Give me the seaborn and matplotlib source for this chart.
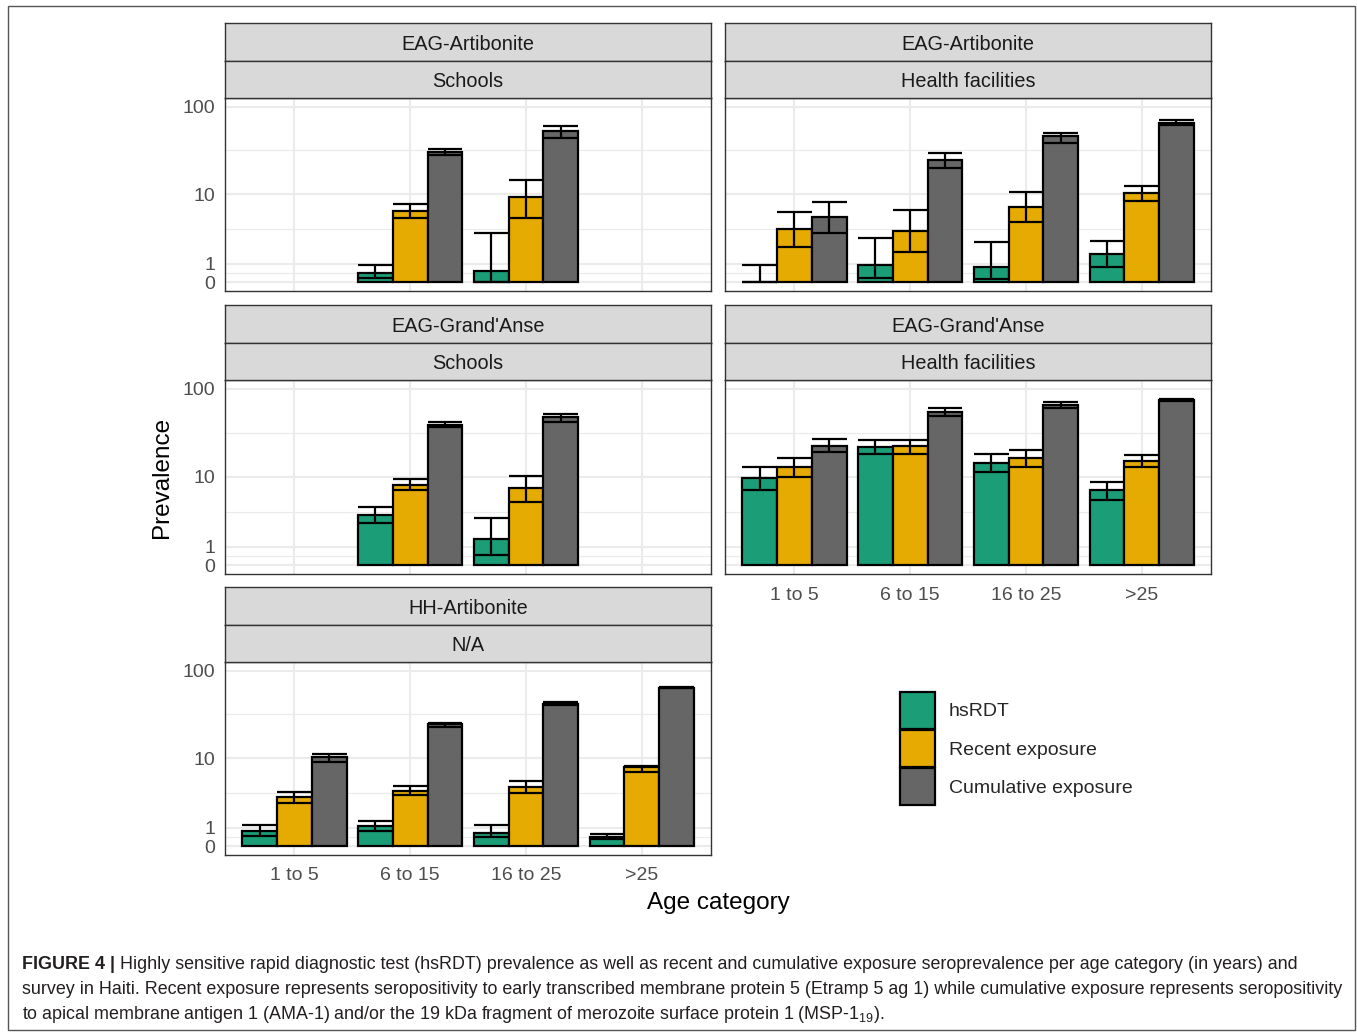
import numpy as np
import pandas as pd
import matplotlib
matplotlib.use("Agg")
import matplotlib.pyplot as plt
import seaborn as sns
from matplotlib.patches import Rectangle, Patch
from matplotlib import font_manager
from matplotlib.ticker import FixedLocator, NullFormatter

# ---------------- data ----------------
ages = ["1 to 5", "6 to 15", "16 to 25", ">25"]
measures = ["hsRDT", "Recent exposure", "Cumulative exposure"]
colors = ["#1B9E77", "#E6AB02", "#666666"]
nan = np.nan

# Panel 1: EAG-Artibonite / Schools
p1_hs = [nan, 0.50, 0.62, nan]
p1_hs_lo = [nan, 0.23, 0.0, nan]
p1_hs_hi = [nan, 0.92, 3.4, nan]
p1_re = [nan, 6.4, 9.2, nan]
p1_re_lo = [nan, 5.2, 5.2, nan]
p1_re_hi = [nan, 7.7, 14.6, nan]
p1_cu = [nan, 30.7, 52.8, nan]
p1_cu_lo = [nan, 28.1, 44.3, nan]
p1_cu_hi = [nan, 32.9, 60.2, nan]

# Panel 2: EAG-Artibonite / Health facilities
p2_hs = [0.0, 0.96, 0.84, 1.59]
p2_hs_lo = [0.0, 0.21, 0.19, 0.84]
p2_hs_hi = [0.92, 2.88, 2.55, 2.62]
p2_re = [3.84, 3.63, 7.16, 10.2]
p2_re_lo = [2.16, 1.77, 4.7, 8.3]
p2_re_hi = [6.24, 6.5, 10.5, 12.4]
p2_cu = [5.37, 24.9, 45.9, 66.0]
p2_cu_lo = [3.35, 19.9, 38.9, 62.0]
p2_cu_hi = [8.1, 29.9, 50.1, 70.0]

# Panel 3: EAG-Grand'Anse / Schools
p3_hs = [nan, 3.43, 1.49, nan]
p3_hs_lo = [nan, 2.64, 0.56, nan]
p3_hs_hi = [nan, 4.34, 3.16, nan]
p3_re = [nan, 7.97, 7.3, nan]
p3_re_lo = [nan, 6.9, 5.0, nan]
p3_re_hi = [nan, 9.4, 10.3, nan]
p3_cu = [nan, 39.0, 47.9, nan]
p3_cu_lo = [nan, 36.5, 42.1, nan]
p3_cu_hi = [nan, 41.5, 52.4, nan]

# Panel 4: EAG-Grand'Anse / Health facilities
p4_hs = [9.7, 22.1, 14.3, 6.9]
p4_hs_lo = [7.0, 18.2, 11.2, 5.3]
p4_hs_hi = [12.8, 26.3, 18.0, 8.6]
p4_re = [12.9, 22.3, 16.2, 15.0]
p4_re_lo = [9.8, 18.2, 12.9, 12.8]
p4_re_hi = [16.2, 26.1, 20.4, 17.6]
p4_cu = [22.6, 54.2, 66.2, 75.0]
p4_cu_lo = [19.0, 49.2, 60.7, 72.4]
p4_cu_hi = [27.0, 60.2, 71.6, 77.6]

# Panel 5: HH-Artibonite / N/A
p5_hs = [0.80, 1.09, 0.73, 0.51]
p5_hs_lo = [0.53, 0.84, 0.47, 0.39]
p5_hs_hi = [1.2, 1.44, 1.15, 0.67]
p5_re = [3.39, 4.08, 4.55, 7.8]
p5_re_lo = [2.78, 3.6, 3.85, 6.8]
p5_re_hi = [3.96, 4.71, 5.3, 8.1]
p5_cu = [10.2, 24.5, 42.0, 64.0]
p5_cu_lo = [9.1, 23.0, 40.6, 62.8]
p5_cu_hi = [11.3, 25.6, 43.6, 65.0]

y_ticks = [0, 1, 10, 100]
y_tick_labels = ["0", "1", "10", "100"]

panels = [
    ("EAG-Artibonite", "Schools", 0, 0,
     [(p1_hs, p1_hs_lo, p1_hs_hi), (p1_re, p1_re_lo, p1_re_hi), (p1_cu, p1_cu_lo, p1_cu_hi)]),
    ("EAG-Artibonite", "Health facilities", 1, 0,
     [(p2_hs, p2_hs_lo, p2_hs_hi), (p2_re, p2_re_lo, p2_re_hi), (p2_cu, p2_cu_lo, p2_cu_hi)]),
    ("EAG-Grand'Anse", "Schools", 0, 1,
     [(p3_hs, p3_hs_lo, p3_hs_hi), (p3_re, p3_re_lo, p3_re_hi), (p3_cu, p3_cu_lo, p3_cu_hi)]),
    ("EAG-Grand'Anse", "Health facilities", 1, 1,
     [(p4_hs, p4_hs_lo, p4_hs_hi), (p4_re, p4_re_lo, p4_re_hi), (p4_cu, p4_cu_lo, p4_cu_hi)]),
    ("HH-Artibonite", "N/A", 0, 2,
     [(p5_hs, p5_hs_lo, p5_hs_hi), (p5_re, p5_re_lo, p5_re_hi), (p5_cu, p5_cu_lo, p5_cu_hi)]),
]

# ---------------- style ----------------
sns.set_style("white")
names = {f.name for f in font_manager.fontManager.ttflist}
main_family = "Liberation Sans" if "Liberation Sans" in names else "DejaVu Sans"
cap_family = "Liberation Sans Narrow" if "Liberation Sans Narrow" in names else main_family
plt.rcParams["font.family"] = [main_family, "DejaVu Sans"]
plt.rcParams["mathtext.fontset"] = "custom"
plt.rcParams["mathtext.rm"] = cap_family
plt.rcParams["mathtext.it"] = cap_family
plt.rcParams["mathtext.bf"] = cap_family + ":bold"

W, H = 1357, 1033
fig = plt.figure(figsize=(W / 100, H / 100), dpi=100)
fig.patch.set_facecolor("white")


def rect(x0, y0, x1, y1):
    return [x0 / W, 1 - y1 / H, (x1 - x0) / W, (y1 - y0) / H]


cols = [(225, 711), (725, 1211)]
rows_panel = [(98, 291), (380, 574), (662, 855)]
rows_strip = [(23, 60.5), (305, 342.5), (587, 624.5)]

a = 2.0
tmax = np.arcsinh(100 / a)
ylo = a * np.sinh(-0.05 * tmax)
yhi = a * np.sinh(1.05 * tmax)
tk = np.arcsinh(np.array(y_ticks) / a)
minor = a * np.sinh((tk[:-1] + tk[1:]) / 2)

FS_TICK = 14
FS_STRIP = 14.3
FS_LEG = 14
edge = "#333333"
bar_lw = 1.6

bottom_panels = {(1, 1), (0, 2)}

for site, setting, c, r, series in panels:
    recs = []
    for m, (v, lo, hi) in zip(measures, series):
        for age, vv, ll, hh in zip(ages, v, lo, hi):
            if not np.isnan(vv):
                recs.append(dict(age=age, measure=m, value=vv, lo=ll, hi=hh))
    df = pd.DataFrame(recs)

    x0, x1 = cols[c]
    y0, y1 = rows_panel[r]
    ax = fig.add_axes(rect(x0, y0, x1, y1))
    ax.set_facecolor("white")
    sns.barplot(data=df, x="age", y="value", hue="measure", order=ages,
                hue_order=measures, palette=colors, width=0.9, errorbar=None,
                edgecolor="black", linewidth=bar_lw, saturation=1,
                legend=False, ax=ax, zorder=2)
    for j, m in enumerate(measures):
        sub = df[df.measure == m]
        xs = np.array([ages.index(ag) for ag in sub.age]) + (j - 1) * 0.3
        ax.vlines(xs, sub.lo, sub.hi, color="black", lw=bar_lw, zorder=3)
        ax.hlines(sub.lo, xs - 0.15, xs + 0.15, color="black", lw=bar_lw, zorder=3)
        ax.hlines(sub.hi, xs - 0.15, xs + 0.15, color="black", lw=bar_lw, zorder=3)

    ax.set_yscale("asinh", linear_width=a)
    ax.set_ylim(ylo, yhi)
    ax.set_xlim(-0.6, 3.6)
    ax.yaxis.set_major_locator(FixedLocator(y_ticks))
    ax.yaxis.set_minor_locator(FixedLocator(minor))
    ax.yaxis.set_minor_formatter(NullFormatter())
    ax.set_yticklabels(y_tick_labels)
    ax.set_axisbelow(True)
    ax.grid(True, which="major", color="#EBEBEB", lw=1.5, zorder=0)
    ax.grid(True, which="minor", axis="y", color="#EBEBEB", lw=0.8, zorder=0)
    ax.set_xlabel("")
    ax.set_ylabel("")
    for s in ax.spines.values():
        s.set_color(edge)
        s.set_linewidth(1.0)
        s.set_visible(True)
    ax.tick_params(axis="both", which="minor", length=0)
    if (c, r) in bottom_panels:
        ax.tick_params(axis="x", length=4, width=1, color=edge, labelsize=FS_TICK,
                       labelcolor="#4D4D4D", pad=5)
    else:
        ax.tick_params(axis="x", length=0, labelbottom=False)
    if c == 0:
        ax.tick_params(axis="y", length=4, width=1, color=edge, labelsize=FS_TICK,
                       labelcolor="#4D4D4D", pad=3)
    else:
        ax.tick_params(axis="y", length=0, labelleft=False)

    # strips
    for k, label in enumerate([site, setting]):
        sy0 = rows_strip[r][0] + k * 37.5
        sy1 = sy0 + 37.5
        sax = fig.add_axes(rect(x0, sy0, x1, sy1))
        sax.set_facecolor("#D9D9D9")
        sax.set_xticks([])
        sax.set_yticks([])
        for s in sax.spines.values():
            s.set_color(edge)
            s.set_linewidth(1.0)
        sax.text(0.5, 0.5 - 2.5 / 37.5, label, ha="center", va="center",
                 fontsize=FS_STRIP, color="#1A1A1A", transform=sax.transAxes)

# axis titles
fig.text(718 / W, 1 - 903 / H, "Age category", ha="center", va="center",
         fontsize=17.5, color="black")
fig.text(162 / W, 1 - 477 / H, "Prevalence", ha="center", va="center",
         rotation=90, fontsize=17.5, color="black")

# legend
handles = [Patch(facecolor=col, edgecolor="black", linewidth=bar_lw, label=m)
           for col, m in zip(colors, measures)]
fs_px = FS_LEG * 100 / 72
fig.legend(handles=handles, loc="upper left",
           bbox_to_anchor=(900 / W, 1 - 692 / H), frameon=False, fontsize=FS_LEG,
           handlelength=35 / fs_px, handleheight=2.56, labelspacing=0.05,
           handletextpad=0.72, borderpad=0, borderaxespad=0)

# caption
cap_col = "#231F20"
line1 = (" Highly sensitive rapid diagnostic test (hsRDT) prevalence as well as recent "
         "and cumulative exposure seroprevalence per age category (in years) and")
line2 = ("survey in Haiti. Recent exposure represents seropositivity to early transcribed "
         "membrane protein 5 (Etramp 5 ag 1) while cumulative exposure represents seropositivity")
line3 = ("to apical membrane antigen 1 (AMA-1) and/or the 19 kDa fragment of merozoite "
         "surface protein 1 (MSP-$\\mathregular{1_{19}}$).")

renderer = fig.canvas.get_renderer()
probe = fig.text(0, 0, line2, fontsize=10, family=cap_family)
wpx = probe.get_window_extent(renderer).width
probe.remove()
cfs = 10 * (1341 - 22) / wpx

xl = 22 / W
t_b = fig.text(xl, 1 - 969 / H, "FIGURE 4 |", fontsize=cfs, family=cap_family,
               weight="bold", color=cap_col, va="baseline", ha="left")
bw = t_b.get_window_extent(renderer).width
fig.text((22 + bw) / W, 1 - 969 / H, line1, fontsize=cfs, family=cap_family,
         color=cap_col, va="baseline", ha="left")
fig.text(xl, 1 - 994 / H, line2, fontsize=cfs, family=cap_family,
         color=cap_col, va="baseline", ha="left")
fig.text(xl, 1 - 1019 / H, line3, fontsize=cfs, family=cap_family,
         color=cap_col, va="baseline", ha="left")

# outer frame
fig.add_artist(Rectangle((8 / W, 1 - 1030 / H), (1355 - 8) / W, (1030 - 6) / H,
                         transform=fig.transFigure, fill=False, edgecolor="#555555",
                         lw=1.0))

fig.savefig("out.png", dpi=100, facecolor="white")
